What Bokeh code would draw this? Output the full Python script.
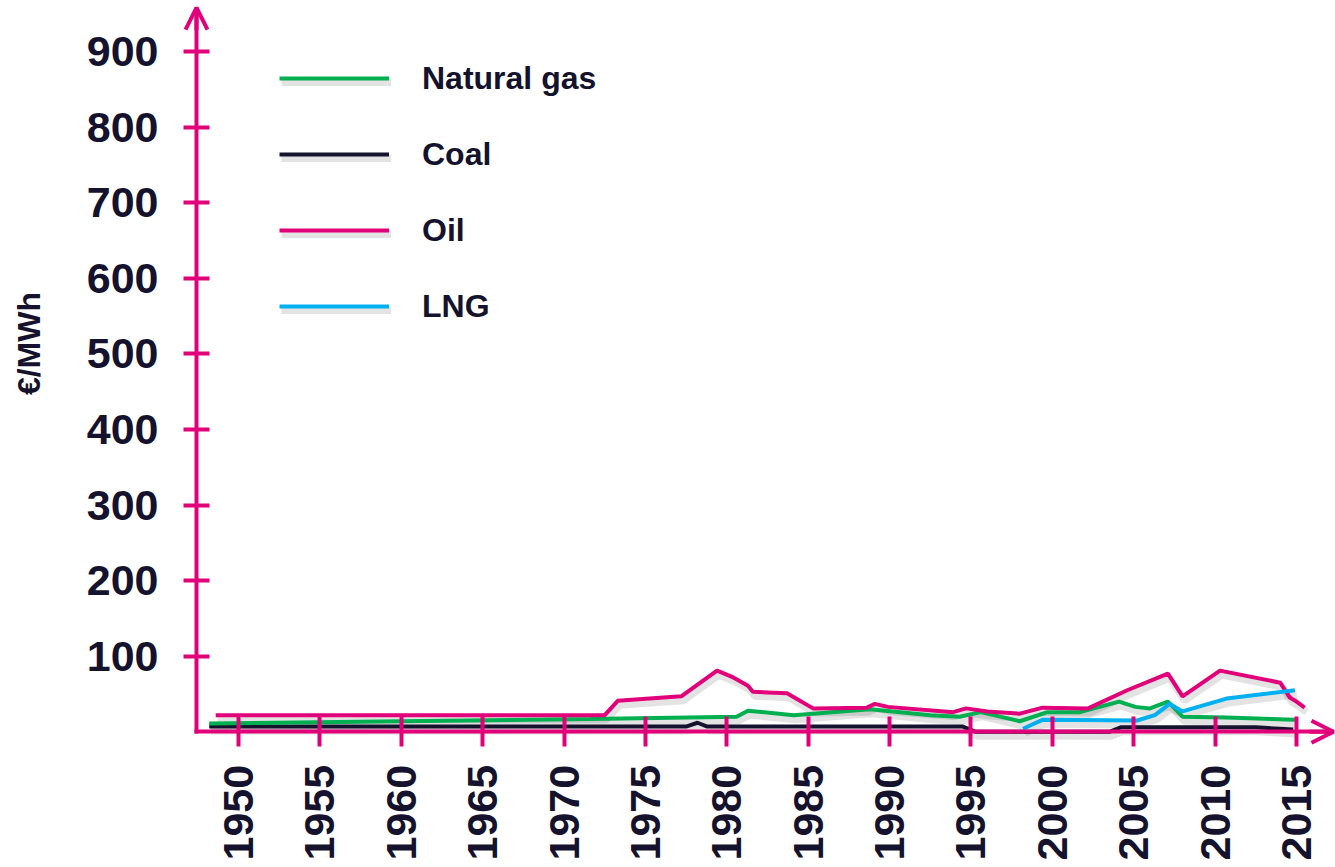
from math import pi
from bokeh.plotting import figure
from bokeh.models import (Range1d, FixedTicker, Legend, LegendItem, Arrow,
                          OpenHead, Label, ColumnDataSource)
from bokeh.transform import dodge
from bokeh.embed import file_html
from bokeh.resources import INLINE

# ---------------- data ----------------
gas_year = [1948.2, 1960, 1971.6, 1980.6, 1981.3, 1984.1, 1988.8, 1992.5, 1994.3,
            1995.6, 1998.0, 1999.7, 2001.7, 2004.1, 2005.1, 2006.0, 2007.1, 2008.0,
            2010.7, 2014.9]
gas_value = [11, 14, 17, 20, 28, 22, 30, 22, 20, 26, 14, 26, 26, 40, 33, 31, 40, 20, 19, 16]

coal_year = [1948.2, 1977.5, 1978.2, 1978.8, 1994.5, 1995.3, 2003.5, 2004.2, 2012.5, 2014.8]
coal_value = [7, 7, 12, 7, 7, 0, 0, 6, 6, 3]

oil_year = [1948.6, 1972.5, 1973.3, 1977.2, 1979.4, 1980.4, 1981.3, 1981.6, 1983.7,
            1985.3, 1988.6, 1989.1, 1989.9, 1993.9, 1994.7, 1996.0, 1998.0, 1999.4,
            2002.2, 2004.6, 2007.1, 2008.0, 2010.3, 2014.0, 2014.6, 2015.0, 2015.5]
oil_value = [22, 22, 41, 47, 81, 72, 61, 53, 51, 31, 32, 37, 33, 26, 31, 27, 24, 32,
             31, 55, 77, 47, 81, 65, 45, 40, 32]

lng_year = [1998.2, 1999.4, 2005.2, 2006.3, 2007.2, 2008.0, 2010.7, 2014.9]
lng_value = [4, 16, 15, 22, 37, 27, 44, 55]

x_ticks = [1950, 1955, 1960, 1965, 1970, 1975, 1980, 1985, 1990, 1995, 2000, 2005, 2010, 2015]
y_ticks = [100, 200, 300, 400, 500, 600, 700, 800, 900]
y_label = "€/MWh"

# ---------------- layout / style ----------------
PINK = "#E2007A"
NAVY = "#15122D"
GREEN = "#00B050"
BLUE = "#00B0F0"
FONT = "Liberation Sans"

W, H = 1335, 867
# view ranges (frame covers the whole canvas; axes are placed inside it)
XV0, XV1 = 1935.378, 2017.396
YV0, YV1 = -179.5, 967.5
X_AXIS_AT = 1947.42      # where the value axis crosses
X_TIP = 2017.273         # end of the time axis arrow
Y_TIP = 958.2            # end of the value axis arrow

p = figure(width=W, height=H, x_range=Range1d(XV0, XV1), y_range=Range1d(YV0, YV1),
           output_backend="svg", toolbar_location=None, min_border=0,
           min_border_left=0, min_border_right=0, min_border_top=0, min_border_bottom=0)
p.xgrid.visible = False
p.ygrid.visible = False
p.outline_line_color = None
p.background_fill_color = "white"
p.border_fill_color = "white"

for ax in (p.xaxis, p.yaxis):
    ax.axis_line_color = PINK
    ax.axis_line_width = 4
    ax.major_tick_line_color = PINK
    ax.major_tick_line_width = 4
    ax.minor_tick_line_color = None
    ax.major_label_text_font = FONT
    ax.major_label_text_font_style = "bold"
    ax.major_label_text_color = NAVY

p.xaxis.fixed_location = 0
p.xaxis.bounds = (X_AXIS_AT - 0.12, X_TIP)
p.xaxis.ticker = FixedTicker(ticks=x_ticks)
p.xaxis.major_tick_in = 15
p.xaxis.major_tick_out = 15
p.xaxis.major_label_standoff = 18
p.xaxis.major_label_text_font_size = "43px"
p.xaxis.major_label_orientation = pi / 2

p.yaxis.fixed_location = X_AXIS_AT
p.yaxis.bounds = (-2.6, Y_TIP)
p.yaxis.ticker = FixedTicker(ticks=y_ticks)
p.yaxis.major_tick_in = 13
p.yaxis.major_tick_out = 13
p.yaxis.major_label_standoff = 25
p.yaxis.major_label_text_font_size = "43px"

series = [
    ("Coal", coal_year, coal_value, NAVY),
    ("Natural gas", gas_year, gas_value, GREEN),
    ("Oil", oil_year, oil_value, PINK),
    ("LNG", lng_year, lng_value, BLUE),
]

sources = {name: ColumnDataSource(dict(x=xs, y=ys)) for name, xs, ys, col in series}

# soft drop shadows
shadow_r = {}
for name, xs, ys, col in series:
    shadow_r[name] = p.line(x=dodge("x", 0.12), y=dodge("y", -6), source=sources[name],
                            line_color="black", line_alpha=0.11, line_width=7)

main_r = {}
for name, xs, ys, col in series:
    main_r[name] = p.line(x="x", y="y", source=sources[name], line_color=col, line_width=4)

legend_order = ["Natural gas", "Coal", "Oil", "LNG"]
legend_kw = dict(orientation="vertical", glyph_width=110, glyph_height=40, label_height=40,
                 label_standoff=33, spacing=36, padding=0, margin=0,
                 border_line_alpha=0, background_fill_alpha=0,
                 label_text_font=FONT, label_text_font_style="bold",
                 label_text_font_size="32px", label_text_color=NAVY)

# shadow under the legend keys (blank labels)
shadow_legend = Legend(items=[LegendItem(label=" ", renderers=[shadow_r[n]]) for n in legend_order],
                       location=(281, 537), **legend_kw)
p.add_layout(shadow_legend)

legend = Legend(items=[LegendItem(label=n, renderers=[main_r[n]]) for n in legend_order],
                location=(279, 541), **legend_kw)
p.add_layout(legend)

# axis arrow heads
p.add_layout(Arrow(end=OpenHead(size=22, line_color=PINK, line_width=4),
                   x_start=X_TIP - 1.5, y_start=0, x_end=X_TIP, y_end=0,
                   line_color=PINK, line_width=4))
p.add_layout(Arrow(end=OpenHead(size=22, line_color=PINK, line_width=4),
                   x_start=X_AXIS_AT, y_start=Y_TIP - 30, x_end=X_AXIS_AT, y_end=Y_TIP,
                   line_color=PINK, line_width=4))

# value axis title
p.add_layout(Label(x=1937.10, y=513.7, text=y_label,
                   angle=pi / 2, text_align="center", text_baseline="middle",
                   text_font=FONT, text_font_style="bold", text_font_size="32px",
                   text_color=NAVY))

open("out.html", "w").write(file_html(p, INLINE))
